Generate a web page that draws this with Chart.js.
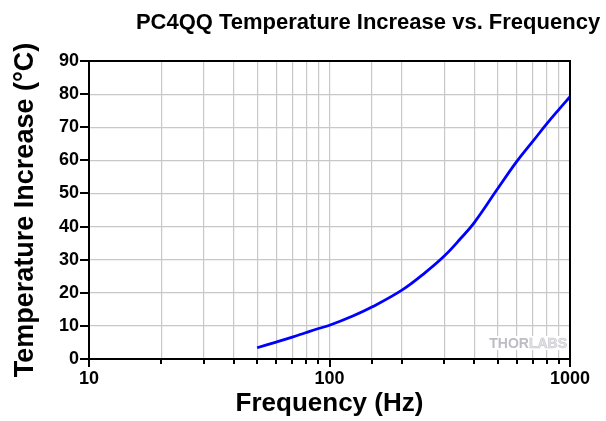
<!DOCTYPE html>
<html>
<head>
<meta charset="utf-8">
<script src="https://cdn.jsdelivr.net/npm/chart.js@4/dist/chart.umd.min.js"></script>
<style>
  html, body { margin: 0; padding: 0; background: #fff; }
  #wrap { width: 606px; height: 421px; }
</style>
</head>
<body>
<div id="wrap"><canvas id="chart" width="606" height="421"></canvas></div>
<script>
/* PC4QQ temperature rise vs. drive frequency */

const FREQ_HZ = [50, 60, 70, 80, 90, 100, 125, 150, 200, 250, 300, 350, 400, 500, 600, 700, 800, 900, 1000];
const TEMP_RISE_C = [3.4, 5.1, 6.6, 8.0, 9.2, 10.2, 13.0, 15.7, 20.8, 26.1, 31.1, 36.3, 41.2, 51.4, 59.6, 65.7, 71.0, 75.4, 79.2];
const X_LABELS = [10, 100, 1000];
const Y_LABEL_STEP = 10;

const FONT = "'Liberation Sans', Arial, sans-serif";

/* ---------- Plugins ---------- */

const decorations = {
    id: "decorations",
    beforeDatasetsDraw(chart) {
        const { ctx, chartArea: a } = chart;
        // Watermark in lower right
        ctx.save();
        ctx.font = `bold 14px ${FONT}`;
        ctx.textBaseline = "alphabetic";
        const thor = "THOR", labs = "LABS";
        const w1 = ctx.measureText(thor).width;
        const w2 = ctx.measureText(labs).width;
        const x0 = a.right - 3 - w1 - w2;
        const y0 = a.bottom - 11;
        ctx.fillStyle = "#fff";
        ctx.fillRect(x0 - 4, y0 - 12, w1 + w2 + 6, 14);
        ctx.fillStyle = "#bcbcc4";
        ctx.fillText(thor, x0, y0);
        ctx.fillStyle = "#e2e2e6";
        ctx.strokeStyle = "#c8c8ce";
        ctx.lineWidth = 0.6;
        ctx.fillText(labs, x0 + w1, y0);
        ctx.strokeText(labs, x0 + w1, y0);
        ctx.restore();
    },
    afterDatasetsDraw(chart) {
        const { ctx, chartArea: a, scales } = chart;
        ctx.save();
        ctx.strokeStyle = "#000";
        ctx.lineWidth = 2;
        ctx.strokeRect(a.left, a.top, a.right - a.left, a.bottom - a.top);

        // y ticks: long on labelled values, short in between
        scales.y.ticks.forEach(t => {
            const y = Math.round(scales.y.getPixelForValue(t.value));
            const len = t.value % Y_LABEL_STEP === 0 ? 9 : 4;
            ctx.beginPath();
            ctx.moveTo(a.left - len, y);
            ctx.lineTo(a.left, y);
            ctx.stroke();
        });
        // x ticks on the log axis
        scales.x.ticks.forEach(t => {
            const x = Math.round(scales.x.getPixelForValue(t.value));
            const len = X_LABELS.includes(t.value) ? 8 : 5;
            ctx.beginPath();
            ctx.moveTo(x, a.bottom);
            ctx.lineTo(x, a.bottom + len);
            ctx.stroke();
        });

        // Title
        ctx.fillStyle = "#000";
        ctx.font = `bold 22px ${FONT}`;
        ctx.textAlign = "center";
        ctx.textBaseline = "alphabetic";
        ctx.fillText("PC4QQ Temperature Increase vs. Frequency", 368, 29);
        ctx.restore();
    }
};

/* ---------- Chart ---------- */

new Chart(document.getElementById("chart"), {
    type: "line",
    data: {
        datasets: [{
            label: "Temperature Increase",
            data: FREQ_HZ.map((f, i) => ({ x: f, y: TEMP_RISE_C[i] })),
            borderColor: "#0000ff",
            borderWidth: 2.8,
            pointRadius: 0,
            fill: false,
            tension: 0.4,
        }]
    },
    options: {
        responsive: false,
        animation: false,
        devicePixelRatio: 1,
        layout: { padding: { top: 61, right: 36, left: 0, bottom: 0 } },
        plugins: {
            legend: { display: false },
            tooltip: { enabled: false },
            title: { display: false }
        },
        scales: {
            x: {
                type: "logarithmic",
                min: 10,
                max: 1000,
                afterFit: s => { s.height = 62; },
                border: { display: false },
                grid: { color: "#c8c8c8", lineWidth: 1.2, drawTicks: false },
                ticks: {
                    autoSkip: false,
                    maxRotation: 0,
                    padding: 9,
                    color: "#000",
                    font: { family: FONT, size: 18, weight: "bold" },
                    callback: v => X_LABELS.includes(v) ? String(v) : ""
                },
                title: {
                    display: true,
                    text: "Frequency (Hz)",
                    color: "#000",
                    font: { family: FONT, size: 26, weight: "bold" },
                    padding: { top: 0, bottom: 2 }
                }
            },
            y: {
                min: 0,
                max: 90,
                afterFit: s => { s.width = 89; },
                border: { display: false },
                grid: { color: "#c8c8c8", lineWidth: 1.2, drawTicks: false },
                ticks: {
                    stepSize: 5,
                    padding: 10,
                    color: "#000",
                    font: { family: FONT, size: 18, weight: "bold" },
                    callback: v => v % Y_LABEL_STEP === 0 ? String(v) : ""
                },
                title: {
                    display: true,
                    text: "Temperature Increase (°C)",
                    color: "#000",
                    font: { family: FONT, size: 27, weight: "bold" },
                    padding: { top: 9, bottom: 0 }
                }
            }
        }
    },
    plugins: [decorations]
});
</script>
</body>
</html>
